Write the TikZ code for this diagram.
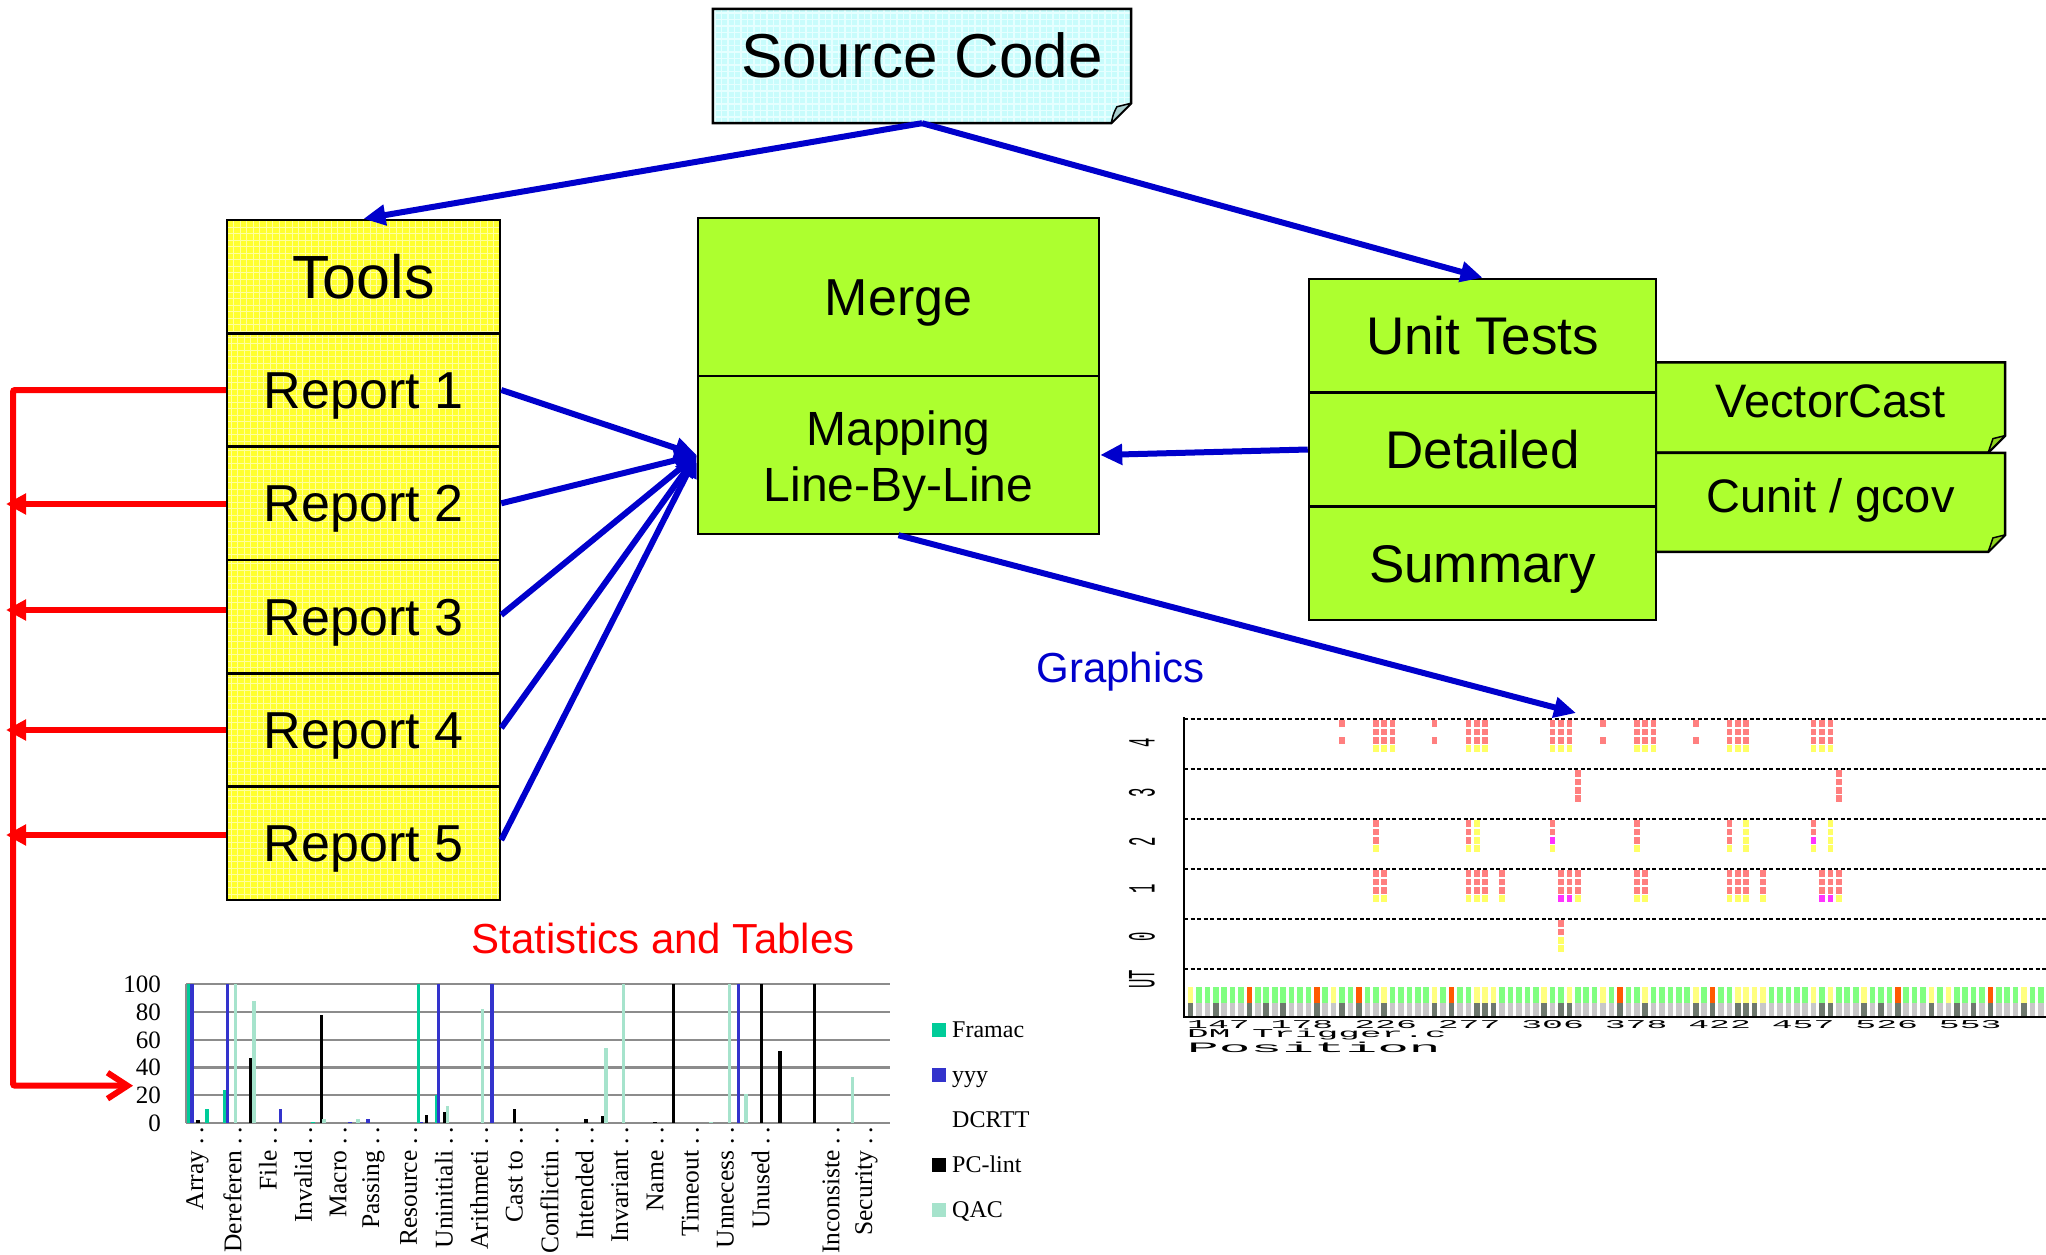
\documentclass[tikz,border=0pt]{standalone}
\usepackage{fontspec}
\setmainfont{Liberation Sans}
\newfontfamily\chartfont{Liberation Serif}
\newfontfamily\pixfont{Liberation Mono}
\usetikzlibrary{arrows.meta,backgrounds}

% box colours
\definecolor{srcfill}{HTML}{C8FCFC}
\definecolor{srcmesh}{HTML}{E6FFFF}
\definecolor{srcfold}{HTML}{A9CFCF}
\definecolor{toolfill}{HTML}{FFFF2E}
\definecolor{toolmesh}{HTML}{FFFF9E}
\definecolor{greenbox}{HTML}{ADFF2F}
\definecolor{greenfold}{HTML}{8ED11E}
\definecolor{arrowblue}{HTML}{0000CC}
\definecolor{arrowred}{HTML}{FF0000}
% bar chart colours
\definecolor{framac}{HTML}{00CC99}
\definecolor{yyy}{HTML}{3333CC}
\definecolor{qac}{HTML}{A6E3CC}
\definecolor{gridgray}{HTML}{8C8C8C}
% coverage chart colours
\definecolor{cr}{HTML}{FF7F7F}
\definecolor{cy}{HTML}{FFFF66}
\definecolor{cm}{HTML}{FF33FF}
\definecolor{utgreen}{HTML}{80FF80}
\definecolor{utyellow}{HTML}{FFFF80}
\definecolor{utorange}{HTML}{FF5A00}
\definecolor{utlight}{HTML}{C8C8C8}
\definecolor{utdark}{HTML}{6E786E}

\newcommand\fsz[1]{\fontsize{#1}{#1}\selectfont}
\newcommand\fszl[2]{\fontsize{#1}{#2}\selectfont}

% outline of a box with a turned-down bottom right corner
\newcommand\dogear[4]{%
  \draw[line width=2.5pt, line join=miter, #3] (#1.north west) -- (#1.north east)
     -- ([yshift=#2pt]#1.south east) -- ([xshift=-#2pt]#1.south east)
     -- (#1.south west) -- cycle;
  \draw[line width=1.5pt, line join=round, fill=#4]
     ([xshift=-#2pt]#1.south east)
     .. controls ([xshift={-0.9*#2pt},yshift={0.45*#2pt}]#1.south east) ..
     ([xshift={-0.72*#2pt},yshift={0.82*#2pt}]#1.south east)
     -- ([yshift=#2pt]#1.south east) -- cycle;}

\tikzset{
  mesh/.style={path picture={\draw[#1, line width=1.1pt]
      ([xshift=-8pt,yshift=-8pt]path picture bounding box.south west) grid[step=6.5pt]
      ([xshift=8pt,yshift=8pt]path picture bounding box.north east);}},
  txt/.style args={#1/#2/#3}{font=\fsz{#1}, text height=#2pt, text depth=#3pt},
  plainbox/.style={inner sep=0pt, align=center},
  toolrow/.style={plainbox, draw=black, line width=2.5pt, fill=toolfill, mesh=toolmesh,
      minimum width=273pt, minimum height=113.33pt},
  greenrow/.style={plainbox, draw=black, line width=2.5pt, fill=greenbox},
  bluearr/.style={draw=arrowblue, line width=6pt, -{Triangle[length=22pt,width=20pt]}},
  redline/.style={draw=arrowred, line width=6pt},
  redtip/.style={-{Triangle[length=20pt,width=20pt]}},
  ticklab/.style={anchor=east, inner sep=0pt, font=\chartfont\fsz{25}, text height=16.9pt, text depth=0pt},
  catlab/.style={rotate=90, anchor=east, inner sep=0pt, font=\chartfont\fsz{25.5}},
  legtext/.style={anchor=west, inner sep=0pt, font=\chartfont\fsz{24}, text height=15.9pt, text depth=0pt},
  lanelab/.style={rotate=90, inner sep=0pt, font=\pixfont\fsz{12}},
  pixtext/.style={anchor=base west, inner sep=0pt, font=\pixfont\fsz{12}},
  lanesep/.style={draw=black, line width=1.4pt, dash pattern=on 4pt off 2.5pt},
}

\begin{document}
\begin{tikzpicture}[x=1pt,y=-1pt]
\begin{pgfonlayer}{background}
  \fill[white] (0,0) rectangle (2046,1255);
\end{pgfonlayer}
\useasboundingbox (0,0) rectangle (2046,1255);

% ---------- source ----------
\node[plainbox, minimum width=418pt, minimum height=114pt, txt=62/44.4/22] (src) at (922,66) {Source Code};

% ---------- tools column ----------
\node[toolrow, txt=61/43.7/0] (tools) at (363.5,276.7) {Tools};
\node[toolrow, txt=52/37.2/0] (r1) at (363.5,390) {Report 1};
\node[toolrow, txt=52/37.2/0] (r2) at (363.5,503.3) {Report 2};
\node[toolrow, txt=52/37.2/0] (r3) at (363.5,616.7) {Report 3};
\node[toolrow, txt=52/37.2/0] (r4) at (363.5,730) {Report 4};
\node[toolrow, txt=52/37.2/0] (r5) at (363.5,843.3) {Report 5};

% ---------- merge ----------
\node[greenrow, minimum width=401pt, minimum height=158pt, txt=52/37.2/0] (merge) at (898.5,297) {Merge};
\node[greenrow, minimum width=401pt, minimum height=158pt, font=\fszl{48}{56}] (map) at (898.5,455) {\rule{0pt}{47pt}Mapping\\Line-By-Line};

% ---------- unit tests ----------
\node[greenrow, minimum width=347pt, minimum height=113.7pt, txt=53/37.9/0] (ut) at (1482.5,335.8) {Unit Tests};
\node[greenrow, minimum width=347pt, minimum height=113.7pt, txt=53/37.9/0] (det) at (1482.5,449.5) {Detailed};
\node[greenrow, minimum width=347pt, minimum height=113.7pt, txt=53/37.9/0] (sum) at (1482.5,563.2) {Summary};
\node[plainbox, minimum width=349pt, minimum height=89.7pt, txt=47/33.7/13] (vc) at (1830.5,407.5) {VectorCast};
\node[plainbox, minimum width=349pt, minimum height=98.5pt, txt=47/33.7/13] (cu) at (1830.5,502.4) {Cunit / gcov};

\begin{pgfonlayer}{background}
  \dogear{src}{20}{fill=srcfill, mesh=srcmesh}{srcfold}
  \dogear{vc}{17}{fill=greenbox}{greenfold}
  \dogear{cu}{17}{fill=greenbox}{greenfold}
\end{pgfonlayer}

% ---------- captions ----------
\node[inner sep=0pt, font=\fsz{42}, text=arrowblue, text height=30pt, text depth=0pt] (gfxtitle) at (1120.5,667.5) {Graphics};
\node[inner sep=0pt, font=\fsz{42}, text=arrowred, text height=30pt, text depth=0pt] (stattitle) at (663,938) {Statistics and Tables};

% ---------- blue connectors ----------
\coordinate (gfxin) at (1576,713);
\draw[bluearr] (src.south) -- (tools.north);
\draw[bluearr] (src.south) -- (ut.north);
\draw[bluearr] (r1.east) -- (map.west);
\draw[bluearr] (r2.east) -- (map.west);
\draw[bluearr] ([yshift=1.7pt]r3.east) -- (map.west);
\draw[bluearr] ([yshift=2pt]r4.east) -- (map.west);
\draw[bluearr] ([yshift=3.3pt]r5.east) -- (map.west);
\draw[bluearr] (det.west) -- (map.east);
\draw[bluearr] (map.south) -- (gfxin);

% ---------- red feedback bus ----------
\coordinate (bustop) at (13,390);
\coordinate (busbot) at (13,1085.7);
\coordinate (busleft) at (6,390);
\coordinate (chartin) at (133,1085.7);
\draw[redline, rounded corners=2pt, -{Straight Barb[length=20pt,width=26pt]}]
   (r1.west) -- (bustop) -- (busbot) -- (chartin);
\draw[redline, redtip] ([yshift=-0.7pt]r2.west) -- ([yshift=-0.7pt]r2.west -| busleft);
\draw[redline, redtip] ([yshift=6.7pt]r3.west) -- ([yshift=6.7pt]r3.west -| busleft);
\draw[redline, redtip] (r4.west) -- (r4.west -| busleft);
\draw[redline, redtip] ([yshift=8.3pt]r5.west) -- ([yshift=8.3pt]r5.west -| busleft);

% ---------- bar chart ----------
\foreach \v in {0,20,...,100}
  \draw[gridgray, line width=2.2pt] (186,{1123-1.39*\v}) -- (890,{1123-1.39*\v});
\draw[gridgray, line width=2.2pt] (186,984) -- (186,1123);
\foreach \v in {0,20,...,100}
  \node[ticklab] (tick\v) at (161,{1123-1.39*\v}) {\v};
\foreach \x/\v/\c in {188.3/100/framac, 192.2/100/yyy, 197.7/2.4/black, 207.2/10/framac,
    224.6/24/framac, 227.6/100/yyy, 235.5/100/qac, 250.4/47/black, 253.9/88/qac,
    280.3/10/yyy, 313.1/1/framac, 321.6/78/black, 324.1/3/qac,
    350.0/1/yyy, 357.9/3/qac, 367.9/3/yyy,
    418.6/100/framac, 421.6/1/yyy, 426.6/6/black, 436.5/20/framac, 438.5/100/yyy,
    444.5/8/black, 447.5/12/qac, 482.3/82/qac, 491.7/100/yyy, 514.6/10/black,
    585.8/3/black, 602.7/5/black, 605.7/54/qac, 623.6/100/qac,
    654.9/1/black, 673.3/100/black, 711.1/1/qac, 729.5/100/qac, 738.5/100/yyy, 746.0/21/qac,
    761.4/100/black, 779.8/52/black, 814.6/100/black, 852.4/33/qac}
  \fill[\c] ({\x-1.8},1123) rectangle ({\x+1.8},{1123-1.39*\v});
\foreach \i/\lab in {0/Array,1/Dereferen,2/File,3/Invalid,4/Macro,5/Passing,6/Resource,
    7/Uninitiali,8/Arithmeti,9/Cast to,10/Conflictin,11/Intended,12/Invariant,13/Name,
    14/Timeout,15/Unnecess,16/Unused,18/Inconsiste,19/Security}
  \node[catlab] (cat\i) at ({197.5+35.2*\i},1127) {\lab~.\,.};
\foreach \n/\c/\t/\y in {1/framac/Framac/1030, 2/yyy/yyy/1075, 3/white/DCRTT/1120,
    4/black/PC-lint/1165, 5/qac/QAC/1210}{
  \fill[\c] (932,{\y-7}) rectangle (946,{\y+7});
  \node[legtext] (leg\n) at (952,\y) {\t};
}

% ---------- coverage chart ----------
\foreach \y in {719,769,819,869,919,969}
  \draw[lanesep] (1184,\y) -- (2046,\y);
\foreach \k in {0,...,101}{
  \fill[utgreen] ({1187.7+8.42*\k},987) rectangle ++(5.6,16);
  \fill[utlight] ({1187.7+8.42*\k},1003) rectangle ++(5.6,14);
}
\foreach \k in {0,17,23,29,34,35,36,42,45,49,54,60,65,66,67,68,74,76,80,88,90,99}
  \fill[utyellow] ({1187.7+8.42*\k},987) rectangle ++(5.6,16);
\foreach \k in {7,15,20,31,51,62,84,95}
  \fill[utorange] ({1187.7+8.42*\k},987) rectangle ++(5.6,16);
\foreach \k in {0,3,7,9,11,15,18,20,23,29,31,34,35,36,42,44,45,51,54,60,62,65,66,67,75,76,80,82,84,88,91,93,95,99}
  \fill[utdark] ({1187.7+8.42*\k},1003) rectangle ++(5.6,14);
\foreach \k/\lt/\a/\b/\c/\d in {
    18/719/cr/none/cr/none, 22/719/cr/cr/cr/cy, 23/719/cr/cr/cr/cy, 24/719/cr/cr/cr/cy,
    29/719/cr/none/cr/none, 33/719/cr/cr/cr/cy, 34/719/cr/cr/cr/cy, 35/719/cr/cr/cr/cy,
    43/719/cr/cr/cr/cy, 44/719/cr/cr/cr/cy, 45/719/cr/cr/cr/cy, 49/719/cr/none/cr/none,
    53/719/cr/cr/cr/cy, 54/719/cr/cr/cr/cy, 55/719/cr/cr/cr/cy, 60/719/cr/none/cr/none,
    64/719/cr/cr/cr/cy, 65/719/cr/cr/cr/cy, 66/719/cr/cr/cr/cy,
    74/719/cr/cr/cr/cy, 75/719/cr/cr/cr/cy, 76/719/cr/cr/cr/cy,
    46/769/cr/cr/cr/cr, 77/769/cr/cr/cr/cr,
    22/819/cr/cr/cr/cy, 33/819/cr/cr/cr/cy, 34/819/cy/cy/cy/cy, 43/819/cr/cr/cm/cy,
    53/819/cr/cr/cr/cy, 64/819/cr/cr/cr/cy, 66/819/cy/cy/cy/cy, 74/819/cr/cr/cm/cy,
    76/819/cy/cy/cy/cy,
    22/869/cr/cr/cr/cy, 23/869/cr/cr/cr/cy, 33/869/cr/cr/cr/cy, 34/869/cr/cr/cr/cy,
    35/869/cr/cr/cr/cy, 37/869/cr/cr/cr/cy, 44/869/cr/cr/cr/cm, 45/869/cr/cr/cr/cm,
    46/869/cr/cr/cr/cy, 53/869/cr/cr/cr/cy, 54/869/cr/cr/cr/cy, 64/869/cr/cr/cr/cy,
    65/869/cr/cr/cr/cy, 66/869/cr/cr/cr/cy, 68/869/cr/cr/cr/cy, 75/869/cr/cr/cr/cm,
    76/869/cr/cr/cr/cm, 77/869/cr/cr/cr/cy,
    44/919/cr/cr/cy/cy}{
  \path[fill=\a] ({1187.7+8.42*\k},{\lt+1.2}) rectangle ++(5.6,6.8);
  \path[fill=\b] ({1187.7+8.42*\k},{\lt+9.5}) rectangle ++(5.6,6.8);
  \path[fill=\c] ({1187.7+8.42*\k},{\lt+17.8}) rectangle ++(5.6,6.8);
  \path[fill=\d] ({1187.7+8.42*\k},{\lt+26.1}) rectangle ++(5.6,6.8);
}
\draw[black, line width=2.5pt] (1184,717) -- (1184,1017) -- (2046,1017);
\foreach \n/\t/\y in {4/4/743, 3/3/793, 2/2/842, 1/1/889, 0/0/937, ut/UT/979}
  \node[lanelab] (lane\n) at (1142,\y) {\scalebox{1.3}[3.2]{\t}};
\node[pixtext] (xnums) at (1187,1028.3) {\scalebox{2.9}[1]{147 178 226 277 306 378 422 457 526 553}};
\node[pixtext] (fname) at (1187,1037.5) {\scalebox{3.0}[1]{DM Trigger.c}};
\node[pixtext] (xname) at (1187,1052) {\scalebox{4.4}[1.2]{Position}};
\end{tikzpicture}
\end{document}
